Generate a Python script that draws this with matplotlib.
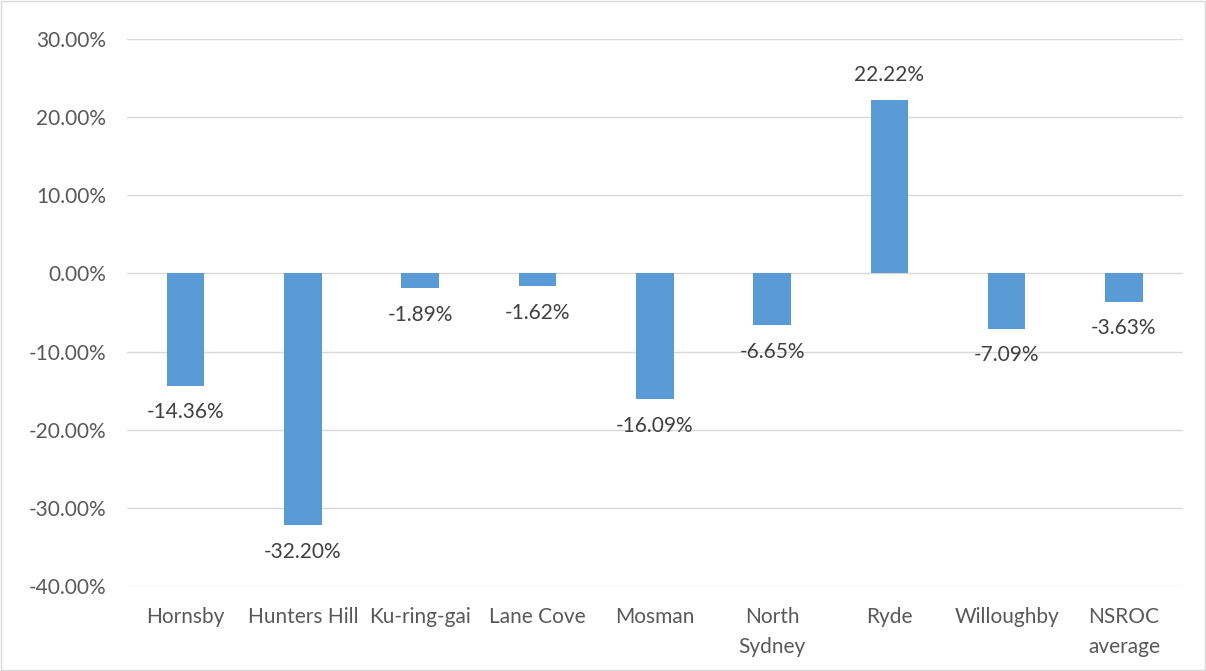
import matplotlib.pyplot as plt
from matplotlib.patches import Rectangle

councils = ['Hornsby', 'Hunters Hill', 'Ku-ring-gai', 'Lane Cove', 'Mosman',
            'North\nSydney', 'Ryde', 'Willoughby', 'NSROC\naverage']
change = [-14.36, -32.20, -1.89, -1.62, -16.09, -6.65, 22.22, -7.09, -3.63]

plt.rcParams['font.family'] = ['Lato', 'DejaVu Sans']

fig = plt.figure(figsize=(12.06, 6.71), dpi=100)
ax = fig.add_axes([0.1053, 0.1267, 0.8753, 0.8152])

x = range(len(councils))
ax.bar(x, change, width=0.32, color='#5B9BD5', zorder=3)

# data labels: below negative bars, above positive ones
for xi, v in zip(x, change):
    off = -12 if v < 0 else 11
    ax.annotate(f'{v:.2f}%', (xi, v), xytext=(0, off), textcoords='offset points',
                ha='center', va='top' if v < 0 else 'bottom',
                fontsize=15, color='#404040')

ax.set_xlim(-0.5, len(councils) - 0.5)
ax.set_ylim(-40, 30)
ax.set_yticks(range(-40, 31, 10))
ax.set_yticklabels([f'{t:.2f}%' for t in range(-40, 31, 10)])
ax.set_xticks(list(x))
ax.set_xticklabels(councils)
ax.tick_params(axis='both', length=0, labelsize=15, labelcolor='#595959')
ax.tick_params(axis='y', pad=15)
ax.tick_params(axis='x', pad=15)
for lbl in ax.get_xticklabels():
    lbl.set_verticalalignment('top')
    lbl.set_linespacing(1.65)

ax.grid(axis='y', color='#D9D9D9', linewidth=1, zorder=0)
for s in ax.spines.values():
    s.set_visible(False)

fig.patches.append(Rectangle((0.001, 0.001), 0.998, 0.997, transform=fig.transFigure,
                             fill=False, edgecolor='#D9D9D9', linewidth=1))

fig.savefig('out.png', dpi=100)
